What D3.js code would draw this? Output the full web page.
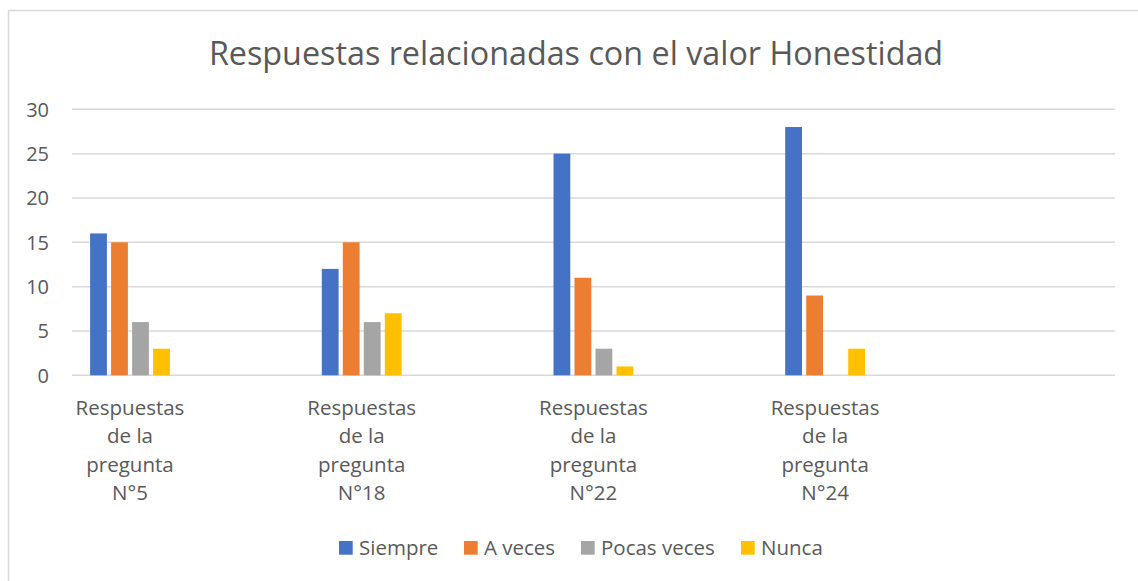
<!DOCTYPE html>
<html>
<head>
<meta charset="utf-8">
<script src="https://cdn.jsdelivr.net/npm/d3@7"></script>
<style>
  body { margin: 0; background: #fff; }
  svg text { font-family: "Open Sans", "Noto Sans", sans-serif; fill: #595959; }
</style>
</head>
<body>
<svg id="chart" width="1138" height="581"></svg>
<script>
// data
const categories = ['Respuestas de la pregunta N°5', 'Respuestas de la pregunta N°18', 'Respuestas de la pregunta N°22', 'Respuestas de la pregunta N°24'];
const label_lines = [
  ['Respuestas', 'de la', 'pregunta', 'N°5'],
  ['Respuestas', 'de la', 'pregunta', 'N°18'],
  ['Respuestas', 'de la', 'pregunta', 'N°22'],
  ['Respuestas', 'de la', 'pregunta', 'N°24']
];
const series_names = ['Siempre', 'A veces', 'Pocas veces', 'Nunca'];
const siempre = [16, 12, 25, 28];
const a_veces = [15, 15, 11, 9];
const pocas_veces = [6, 6, 3, 0];
const nunca = [3, 7, 1, 3];
const y_ticks = [0, 5, 10, 15, 20, 25, 30];
const colors = ['#4472C4', '#ED7D31', '#A5A5A5', '#FFC000'];
const title_text = 'Respuestas relacionadas con el valor Honestidad';

const series_values = [siempre, a_veces, pocas_veces, nunca];

const svg = d3.select('#chart');

// chart frame (only top/left edges show in the crop)
svg.append('rect')
    .attr('x', 8.5).attr('y', 10.5)
    .attr('width', 1140).attr('height', 600)
    .attr('fill', 'none')
    .attr('stroke', '#d9d9d9')
    .attr('stroke-width', 1.5);

const plot_left = 72, plot_right = 1115;
const y = d3.scaleLinear().domain([0, 30]).range([375.3, 109.3]);

// category bands: first group centred at 130, step ~231.7
const step = 231.7;
const x = d3.scaleBand().domain(categories).range([130 - step / 2, 130 + step * 3.5]);
const x_inner = d3.scaleBand().domain(series_names).range([-39.9, 39.9]).paddingInner(0.2);

// gridlines
svg.append('g').selectAll('line').data(y_ticks).enter()
    .append('line')
    .attr('x1', plot_left).attr('x2', plot_right)
    .attr('y1', d => y(d)).attr('y2', d => y(d))
    .attr('stroke', '#d9d9d9')
    .attr('stroke-width', 1.5);

// y tick labels
svg.append('g').selectAll('text').data(y_ticks).enter()
    .append('text')
    .attr('x', 49).attr('y', d => y(d))
    .attr('dy', '0.36em')
    .attr('text-anchor', 'end')
    .style('font-size', '20px')
    .text(d => d);

// bars
const bar_data = [];
categories.forEach(function(c, i) {
    series_names.forEach(function(s, j) {
        bar_data.push({cat: c, series: s, value: series_values[j][i], color: colors[j]});
    });
});
svg.append('g').selectAll('rect').data(bar_data).enter()
    .append('rect')
    .attr('x', d => x(d.cat) + x.bandwidth() / 2 + x_inner(d.series))
    .attr('width', x_inner.bandwidth())
    .attr('y', d => y(d.value))
    .attr('height', d => y(0) - y(d.value))
    .attr('fill', d => d.color);

// x labels
const xl = svg.append('g').selectAll('text').data(categories).enter()
    .append('text')
    .attr('text-anchor', 'middle')
    .style('font-size', '20.5px');
xl.each(function(c, i) {
    const cx = x(c) + x.bandwidth() / 2;
    d3.select(this).selectAll('tspan').data(label_lines[i]).enter()
        .append('tspan')
        .attr('x', cx)
        .attr('y', (d, k) => 415 + k * 28.3)
        .text(d => d);
});

// title
svg.append('text')
    .attr('x', 576).attr('y', 65)
    .attr('text-anchor', 'middle')
    .style('font-size', '32.3px')
    .text(title_text);

// legend
const legend_x = [339, 464, 581, 741];
const lg = svg.append('g').selectAll('g').data(series_names).enter()
    .append('g')
    .attr('transform', (d, i) => `translate(${legend_x[i]},541)`);
lg.append('rect')
    .attr('width', 13.7).attr('height', 13.7)
    .attr('fill', (d, i) => colors[i]);
lg.append('text')
    .attr('x', 20).attr('y', 14)
    .style('font-size', '20.5px')
    .text(d => d);
</script>
</body>
</html>
